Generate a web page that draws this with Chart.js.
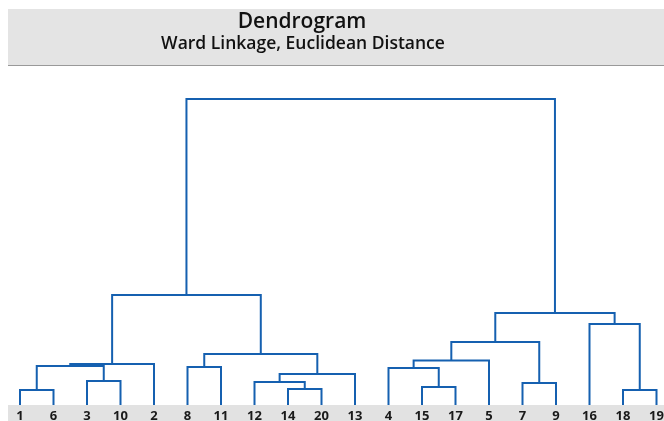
<!DOCTYPE html>
<html>
<head>
<meta charset="utf-8">
<script src="https://cdn.jsdelivr.net/npm/chart.js@4.4.1/dist/chart.umd.min.js"></script>
<style>
  html, body { margin: 0; padding: 0; background: #fff; }
  #wrap { width: 664px; height: 421px; position: relative; }
</style>
</head>
<body>
<div id="wrap"><canvas id="chart" width="664" height="421"></canvas></div>
<script>
// leaf order along the bottom axis
const leaves = ['1', '6', '3', '10', '2', '8', '11', '12', '14', '20', '13', '4', '15', '17', '5', '7', '9', '16', '18', '19']

// merges: cluster c<i> joins mergeLeft[i] and mergeRight[i] at mergeHeight[i]
const mergeLeft = ['1', '3', 'c0', 'c2', '8', '14', '12', 'c6', 'c4', 'c3', '15', '4', 'c11', '7', 'c12', '18', '16', 'c14', 'c9']
const mergeRight = ['6', '10', 'c1', '2', '11', '20', 'c5', '13', 'c7', 'c8', '17', 'c10', '5', '9', 'c13', '19', 'c15', 'c16', 'c17']
const mergeHeight = [1.5, 2.4, 3.9, 4.1, 3.8, 1.6, 2.3, 3.1, 5.1, 11.0, 1.8, 3.7, 4.45, 2.2, 6.3, 1.5, 8.1, 9.2, 30.6]

const titleText = 'Dendrogram'
const subtitleText = 'Ward Linkage, Euclidean Distance'

const lineColor = '#1560b0'

// position and height of each node, leaves first
const nodes = {}
leaves.forEach((name, i) => { nodes[name] = {x: i, h: 0} })

const datasets = mergeLeft.map((left, i) => {
  const a = nodes[left]
  const b = nodes[mergeRight[i]]
  const h = mergeHeight[i]
  nodes['c' + i] = {x: (a.x + b.x) / 2, h: h}
  return {
    data: [{x: a.x, y: a.h}, {x: a.x, y: h}, {x: b.x, y: h}, {x: b.x, y: b.h}],
    borderColor: lineColor,
    borderWidth: 2,
    pointRadius: 0,
    fill: false,
    tension: 0
  }
})

const bands = {
  id: 'bands',
  beforeDraw(chart) {
    const ctx = chart.ctx
    const area = chart.chartArea
    ctx.save()
    ctx.fillStyle = '#e4e4e4'
    ctx.fillRect(8, 9, chart.width - 8, 56)
    ctx.fillStyle = '#999'
    ctx.fillRect(8, 65, chart.width - 8, 1)
    ctx.fillStyle = '#e2e2e2'
    ctx.fillRect(8, area.bottom, chart.width - 8, chart.height - area.bottom)
    ctx.restore()
  },
  afterDraw(chart) {
    const ctx = chart.ctx
    ctx.save()
    ctx.fillStyle = '#111'
    ctx.textAlign = 'center'
    ctx.textBaseline = 'middle'
    ctx.font = '600 21px "Open Sans", sans-serif'
    ctx.fillText(titleText, 302, 22)
    ctx.font = '600 17.5px "Open Sans", sans-serif'
    ctx.fillText(subtitleText, 303, 44)
    ctx.restore()
  }
}

new Chart(document.getElementById('chart').getContext('2d'), {
  type: 'line',
  data: {datasets: datasets},
  plugins: [bands],
  options: {
    responsive: false,
    animation: false,
    devicePixelRatio: 1,
    layout: {padding: {top: 70, left: 0, right: 0, bottom: 0}},
    plugins: {
      legend: {display: false},
      tooltip: {enabled: false}
    },
    scales: {
      x: {
        type: 'linear',
        min: -20 / 33.5,
        max: 644 / 33.5,
        grid: {display: false, drawTicks: false},
        border: {display: false},
        afterBuildTicks(scale) {
          scale.ticks = leaves.map((_, i) => ({value: i}))
        },
        afterFit(scale) {
          scale.height = 16
          scale.paddingLeft = 0
          scale.paddingRight = 0
        },
        ticks: {
          autoSkip: false,
          maxRotation: 0,
          padding: 3,
          color: '#1a1a1a',
          font: {family: '"Open Sans", sans-serif', size: 13, weight: 'bold'},
          callback: (value) => leaves[value]
        }
      },
      y: {
        display: false,
        min: 0,
        max: 33.5
      }
    }
  }
})
</script>
</body>
</html>
